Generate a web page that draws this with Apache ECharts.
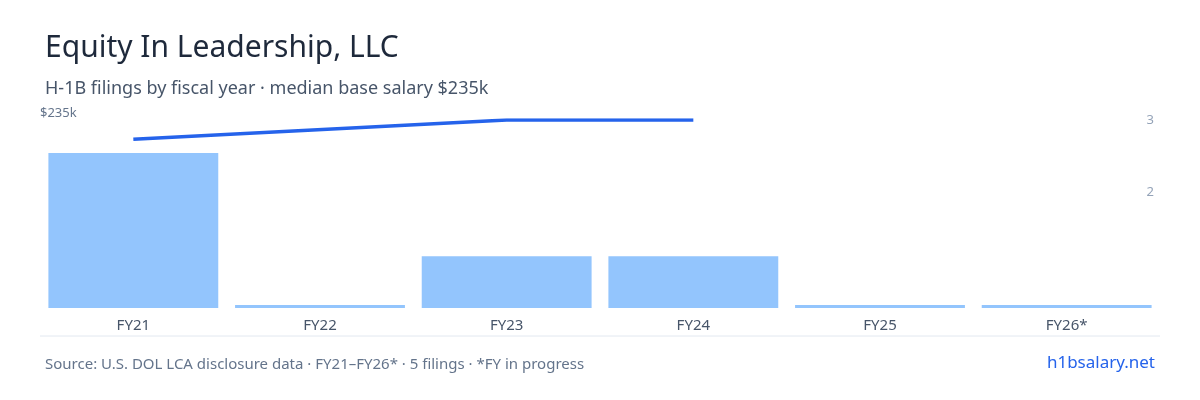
<!DOCTYPE html><html><head><meta charset="utf-8"><script src="https://cdn.jsdelivr.net/npm/echarts@6/dist/echarts.min.js"></script></head><body style="margin:0"><div id="c" style="width:1200px;height:400px"></div><script>
const categories=['FY21','FY22','FY23','FY24','FY25','FY26*'];
const filings=[3,0.06,1,1,0.06,0.06];
const salary=[211,null,235,235,null,null];
const rightTicks=[2,3];
const F='"Noto Sans", sans-serif';
const ch=echarts.init(document.getElementById('c'));
ch.setOption({
 animation:false,
 textStyle:{fontFamily:F},
 title:[{text:'Equity In Leadership, LLC',left:40,top:28,textStyle:{fontSize:30,fontWeight:'normal',color:'#1e293b',fontFamily:F}},
  {text:'H-1B filings by fiscal year · median base salary $235k',left:40,top:75,textStyle:{fontSize:18,fontWeight:'normal',color:'#475569',fontFamily:F}},
  {text:'Source: U.S. DOL LCA disclosure data · FY21–FY26* · 5 filings · *FY in progress',left:40,top:352,textStyle:{fontSize:15,fontWeight:'normal',color:'#64748b',fontFamily:F}},
  {text:'h1bsalary.net',right:40,top:350,textStyle:{fontSize:17,fontWeight:'normal',color:'#2563eb',fontFamily:F}}],
 grid:[{left:40,right:40,top:120,bottom:92},{left:40,right:40,top:120,bottom:64}],
 xAxis:[{type:'category',data:categories,gridIndex:0,axisLine:{show:false},axisTick:{show:false},axisLabel:{margin:10,fontSize:15,color:'#475569'}},
  {type:'category',data:categories,gridIndex:1,show:false}],
 yAxis:[{type:'value',gridIndex:0,min:0,max:235,interval:235,splitLine:{show:false},axisLabel:{formatter:v=>v===235?'$235k':'',color:'#64748b',fontSize:13,inside:true,margin:0,verticalAlign:'bottom'}},
  {type:'value',gridIndex:0,min:0,max:3.64,show:false},
  {type:'value',gridIndex:1,position:'right',min:0,max:3,interval:1,splitLine:{show:false},axisLine:{show:false},axisTick:{show:false},axisLabel:{formatter:v=>rightTicks.includes(v)?String(v):'',color:'#94a3b8',fontSize:13,margin:-6,align:'right'}}],
 series:[{type:'bar',data:filings,xAxisIndex:0,yAxisIndex:1,barCategoryGap:'9%',itemStyle:{color:'#93c5fd'}},
  {type:'line',data:salary,xAxisIndex:0,yAxisIndex:0,connectNulls:true,showSymbol:false,lineStyle:{color:'#2563eb',width:3.5}}],
 graphic:[{type:'line',shape:{x1:40,y1:336,x2:1160,y2:336},style:{stroke:'#e2e8f0',lineWidth:1}}]
});
</script></body></html>
